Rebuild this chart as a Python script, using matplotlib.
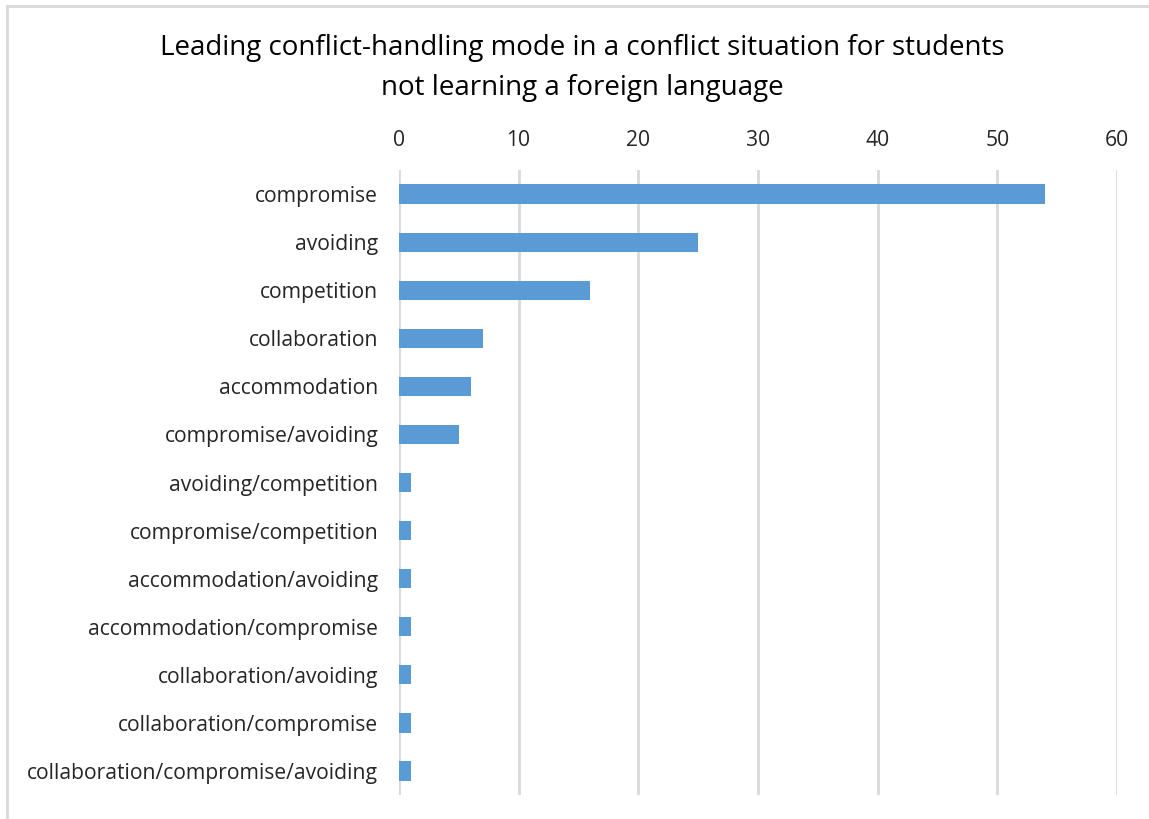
import matplotlib
matplotlib.use("Agg")
import matplotlib.pyplot as plt
from matplotlib.lines import Line2D

categories = [
    "compromise", "avoiding", "competition", "collaboration", "accommodation",
    "compromise/avoiding", "avoiding/competition", "compromise/competition",
    "accommodation/avoiding", "accommodation/compromise", "collaboration/avoiding",
    "collaboration/compromise", "collaboration/compromise/avoiding",
]
values = [54, 25, 16, 7, 6, 5, 1, 1, 1, 1, 1, 1, 1]
xticks = [0, 10, 20, 30, 40, 50, 60]
title = "Leading conflict-handling mode in a conflict situation for students\nnot learning a foreign language"

plt.rcParams['font.family'] = ['Open Sans', 'DejaVu Sans']

W, H = 1149, 819
fig = plt.figure(figsize=(W / 100, H / 100), dpi=100)
ax = fig.add_axes([399 / W, 1 - 795 / H, (1117 - 399) / W, (795 - 170) / H])

ypos = list(range(len(categories)))
ax.barh(ypos, values, height=0.4, color="#5B9BD5", zorder=3)
ax.set_ylim(len(categories) - 0.5, -0.5)
ax.set_xlim(0, 60)
ax.set_yticks(ypos)
ax.set_yticklabels(categories, fontsize=15.2, color="#262626")
ax.set_xticks(xticks)
ax.set_xticklabels([str(t) for t in xticks], fontsize=15.2, color="#262626")
ax.xaxis.tick_top()
ax.tick_params(axis="both", length=0)
ax.tick_params(axis="x", pad=14)
ax.tick_params(axis="y", pad=15)
ax.grid(axis="x", color="#D9D9D9", linewidth=2, zorder=0)
for s in ax.spines.values():
    s.set_visible(False)

fig.text(582 / W, 1 - 68 / H, title, ha="center", va="center", fontsize=20,
         color="#000000", linespacing=1.55)

fig.add_artist(Line2D([7 / W, 1], [1 - 6 / H, 1 - 6 / H], transform=fig.transFigure,
                      color="#D9D9D9", linewidth=2))
fig.add_artist(Line2D([7 / W, 7 / W], [0, 1 - 6 / H], transform=fig.transFigure,
                      color="#D9D9D9", linewidth=2))

fig.savefig("out.png", dpi=100)
